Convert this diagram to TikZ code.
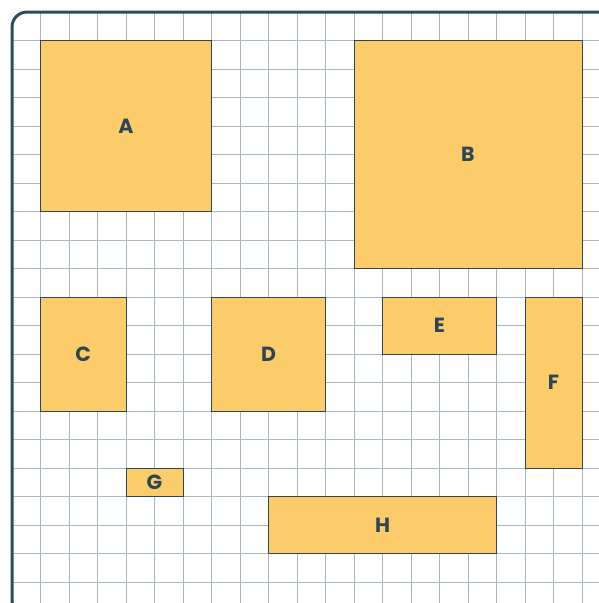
\documentclass[tikz,border=0pt]{standalone}
\usepackage{fontspec}
\setmainfont{Poppins}
\definecolor{frameC}{HTML}{2B4A5C}
\definecolor{gridC}{HTML}{A9B8C0}
\definecolor{boxC}{HTML}{FCCB6A}
\definecolor{txtC}{HTML}{2D4654}
\tikzset{
  box/.style={draw=txtC, line width=0.9pt, fill=boxC, inner sep=0pt, outer sep=0pt, anchor=north west,
    text=txtC, font=\fontsize{20.5}{20.5}\selectfont\bfseries},
  gridline/.style={draw=gridC, line width=1pt},
  framebox/.style={draw=frameC, line width=3pt, rounded corners=15pt}
}
\begin{document}
\begin{tikzpicture}[x=1pt,y=-1pt]
\useasboundingbox (0,0) rectangle (599,603);
\fill[white] (0,0) rectangle (599,603);
\begin{scope}
\clip (0,0) rectangle (599,603);
\foreach \i in {1,...,21} {
  \draw[gridline] ({12+28.5*\i},12) -- ({12+28.5*\i},603);
  \draw[gridline] (12,{12+28.5*\i}) -- (599,{12+28.5*\i});
}
\draw[framebox] (12,12) rectangle (614,615);
\end{scope}
\node[box, minimum width=171pt, minimum height=171pt] (A) at (40.5,40.5) {A};
\node[box, minimum width=228pt, minimum height=228pt] (B) at (354,40.5) {B};
\node[box, minimum width=85.5pt, minimum height=114pt] (C) at (40.5,297) {C};
\node[box, minimum width=114pt, minimum height=114pt] (D) at (211.5,297) {D};
\node[box, minimum width=114pt, minimum height=57pt] (E) at (382.5,297) {E};
\node[box, minimum width=57pt, minimum height=171pt] (F) at (525,297) {F};
\node[box, minimum width=57pt, minimum height=28.5pt] (G) at (126,468) {G};
\node[box, minimum width=228pt, minimum height=57pt] (H) at (268.5,496.5) {H};
\end{tikzpicture}
\end{document}
